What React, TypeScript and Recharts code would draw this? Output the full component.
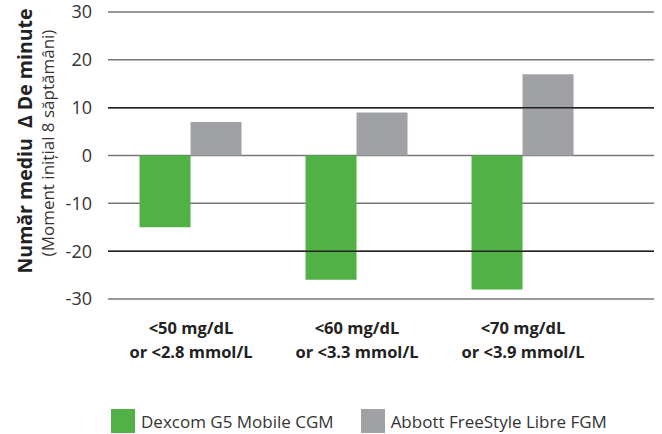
import { BarChart, Bar, XAxis, YAxis, CartesianGrid, ReferenceLine } from "recharts"

const categories = ["<50 mg/dL|or <2.8 mmol/L", "<60 mg/dL|or <3.3 mmol/L", "<70 mg/dL|or <3.9 mmol/L"]
const dexcom = [-15, -26, -28]
const abbott = [7, 9, 17]
const yTicks = [-30, -20, -10, 0, 10, 20, 30]

const GREEN = "#52b146"
const GRAY = "#a0a1a5"
const FONT = "'Open Sans', sans-serif"

const data = categories.map((c, i) => ({ cat: c, dexcom: dexcom[i], abbott: abbott[i] }))

function CatTick({ x, y, payload }: any) {
    const [l1, l2] = String(payload.value).split("|")
    return (
        <text x={x} y={y} textAnchor="middle" fontFamily={FONT} fontWeight={700} fontSize={16.5} fill="#222">
            <tspan x={x} dy={27}>{l1}</tspan>
            <tspan x={x} dy={24}>{l2}</tspan>
        </text>
    )
}

function YLabel() {
    return (
        <g>
            <text transform="translate(32,141) rotate(-90)" textAnchor="middle" fontFamily={FONT} fontWeight={700} fontSize={19.5} fill="#222">
                {"Număr mediu\u00a0\u00a0Δ De minute"}
            </text>
            <text transform="translate(54,143) rotate(-90)" textAnchor="middle" fontFamily={FONT} fontSize={17} fill="#333">
                (Moment inițial 8 săptămâni)
            </text>
        </g>
    )
}

function LegendBox() {
    const item = (color: string, label: string, ml: number) => (
        <div style={{ display: 'flex', alignItems: 'center', marginLeft: ml }}>
            <div style={{ width: 24, height: 24, background: color, marginRight: 6 }} />
            <span style={{ fontFamily: FONT, fontSize: 17, color: '#333' }}>{label}</span>
        </div>
    )
    return (
        <div style={{ position: 'absolute', left: 0, top: 409, display: 'flex', alignItems: 'center' }}>
            {item(GREEN, "Dexcom G5 Mobile CGM", 111)}
            {item(GRAY, "Abbott FreeStyle Libre FGM", 27)}
        </div>
    )
}

export default function App() {
    return (
        <div style={{ position: 'absolute', left: 0, top: 0, width: 662, height: 434, background: '#fff' }}>
            <BarChart width={662} height={434} data={data} margin={{ top: 12, right: 8, left: 0, bottom: 105 }}
                barGap={0} barCategoryGap="19%">
                <CartesianGrid vertical={false} stroke="#777" strokeWidth={1.5} />
                <ReferenceLine y={10} stroke="#222" strokeWidth={1.5} />
                <ReferenceLine y={-20} stroke="#222" strokeWidth={1.5} />
                <XAxis dataKey="cat" axisLine={false} tickLine={false} interval={0} tick={<CatTick />} padding={{ left: 0, right: 48 }} />
                <YAxis domain={[-30, 30]} ticks={yTicks} axisLine={false} tickLine={false} width={108}
                    tick={{ fontFamily: FONT, fontSize: 18, fill: '#333' }} tickMargin={10} />
                <Bar dataKey="dexcom" fill={GREEN} isAnimationActive={false} />
                <Bar dataKey="abbott" fill={GRAY} isAnimationActive={false} />
                <YLabel />
            </BarChart>
            <LegendBox />
        </div>
    )
}
